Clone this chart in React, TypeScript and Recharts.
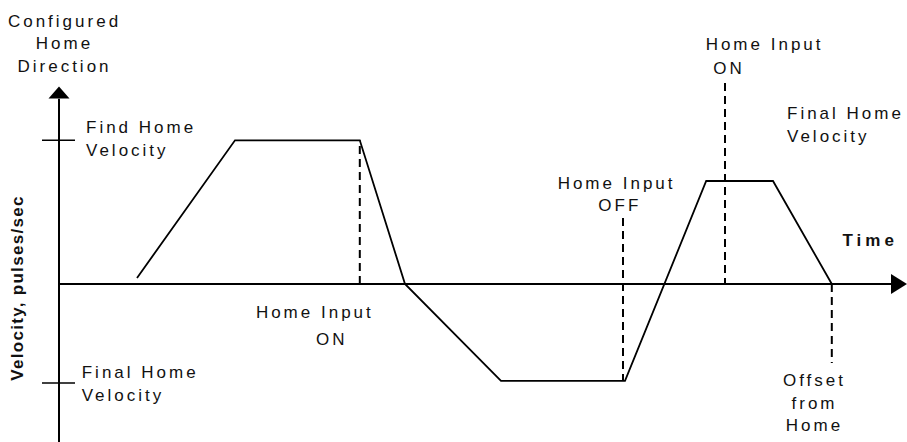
import React from "react";
import { ComposedChart, Line, XAxis, YAxis, ReferenceLine, ReferenceDot } from "recharts";

// Velocity profile of the homing move (time units, pulses/sec)
const profileTime = [9.75, 22, 37.6, 43.25, 55.25, 70.75, 80.9, 89.25, 96.6];
const profileVelocity = [0.42, 10, 10, 0, -6.75, -6.75, 7.17, 7.17, 0];

// Velocity ticks on the vertical axis
const findHomeVelocity = 10;
const finalHomeVelocity = -6.9;

// Event markers (dashed): time, velocity from, velocity to
const markerTime = [37.6, 70.5, 83.25, 96.6];
const markerFrom = [0, 4.6, 13.99, 0];
const markerTo = [10, -6.75, 0, -5.5];

// Text annotations
const annoText: string[][] = [
  ["Configured", "Home", "Direction"],
  ["Find Home", "Velocity"],
  ["Final Home", "Velocity"],
  ["Home Input"],
  ["ON"],
  ["Home Input"],
  ["ON"],
  ["Final Home", "Velocity"],
  ["Home Input"],
  ["OFF"],
  ["Offset", "from", "Home"],
];
const annoT = [0.69, 3.375, 2.84, 31.98, 34.1, 88.2, 83.75, 91, 69.7, 70.1, 94.44];
const annoV = [17.91, 10.51, -6.54, -2.39, -4.25, 16.29, 14.6, 11.47, 6.59, 5.1, -7.1];
const annoAnchor = ["middle", "start", "start", "middle", "middle", "middle", "middle", "start", "middle", "middle", "middle"];

const timeLabel = "Time";
const velocityLabel = "Velocity, pulses/sec";

const profile = profileTime.map((t, i) => ({ t, v: profileVelocity[i] }));

const FONT = "'Liberation Sans', Arial, Helvetica, sans-serif";

const UpArrow = (p: any) => (
  <polygon points={`${p.cx},${p.cy} ${p.cx - 10.5},${p.cy + 12} ${p.cx + 10.5},${p.cy + 12}`} fill="#000" />
);
const RightArrow = (p: any) => (
  <polygon points={`${p.cx},${p.cy} ${p.cx - 16},${p.cy - 10} ${p.cx - 16},${p.cy + 10}`} fill="#000" />
);

const makeText = (lines: string[], anchor: string) => (p: any) => (
  <text
    x={p.cx}
    y={p.cy}
    textAnchor={anchor as any}
    fontFamily={FONT}
    fontSize={17}
    letterSpacing={3}
    fill="#111"
  >
    {lines.map((l, i) => (
      <tspan key={i} x={p.cx} dy={i === 0 ? 0 : 22.6}>
        {l}
      </tspan>
    ))}
  </text>
);

const TimeText = (p: any) => (
  <text x={p.cx} y={p.cy} textAnchor="middle" fontFamily={FONT} fontSize={17} fontWeight="bold" letterSpacing={4} fill="#111">
    {timeLabel}
  </text>
);

const VelText = (p: any) => (
  <text
    x={p.cx}
    y={p.cy}
    textAnchor="middle"
    dominantBaseline="central"
    transform={`rotate(-90 ${p.cx} ${p.cy})`}
    fontFamily={FONT}
    fontSize={17}
    fontWeight="bold"
    letterSpacing={1.3}
    fill="#111"
  >
    {velocityLabel}
  </text>
);

export default function App() {
  return (
    <div style={{ position: "absolute", left: 0, top: 0, width: 907, height: 442, background: "#fff" }}>
      <ComposedChart width={907} height={442} data={profile} margin={{ top: 80, right: 0, bottom: 0, left: 42 }}>
        <XAxis type="number" dataKey="t" domain={[-2.125, 106]} hide allowDataOverflow />
        <YAxis type="number" domain={[-11, 14.2]} hide allowDataOverflow />

        {/* axes */}
        <ReferenceLine segment={[{ x: 0, y: -11 }, { x: 0, y: 12.9 }]} stroke="#000" strokeWidth={2} ifOverflow="visible" />
        <ReferenceLine segment={[{ x: 0, y: 0 }, { x: 104, y: 0 }]} stroke="#000" strokeWidth={2} ifOverflow="visible" />
        <ReferenceDot x={0} y={13.75} r={0} ifOverflow="visible" shape={UpArrow} />
        <ReferenceDot x={106} y={0} r={0} ifOverflow="visible" shape={RightArrow} />

        {/* velocity ticks */}
        <ReferenceLine segment={[{ x: -2.125, y: findHomeVelocity }, { x: 2, y: findHomeVelocity }]} stroke="#000" strokeWidth={1.5} ifOverflow="visible" />
        <ReferenceLine segment={[{ x: -2.125, y: finalHomeVelocity }, { x: 2, y: finalHomeVelocity }]} stroke="#000" strokeWidth={1.5} ifOverflow="visible" />

        {/* dashed markers */}
        {markerTime.map((t, i) => (
          <ReferenceLine
            key={"m" + i}
            segment={[{ x: t, y: markerFrom[i] }, { x: t, y: markerTo[i] }]}
            stroke="#000"
            strokeWidth={2}
            strokeDasharray="8 5"
            ifOverflow="visible"
          />
        ))}

        <Line type="linear" dataKey="v" stroke="#000" strokeWidth={1.8} dot={false} isAnimationActive={false} />

        {annoText.map((lines, i) => (
          <ReferenceDot
            key={"a" + i}
            x={annoT[i]}
            y={annoV[i]}
            r={0}
            ifOverflow="visible"
            shape={makeText(lines, annoAnchor[i])}
          />
        ))}
        <ReferenceDot x={101.4} y={2.65} r={0} ifOverflow="visible" shape={TimeText} />
        <ReferenceDot x={-5.125} y={-0.28} r={0} ifOverflow="visible" shape={VelText} />
      </ComposedChart>
    </div>
  );
}
